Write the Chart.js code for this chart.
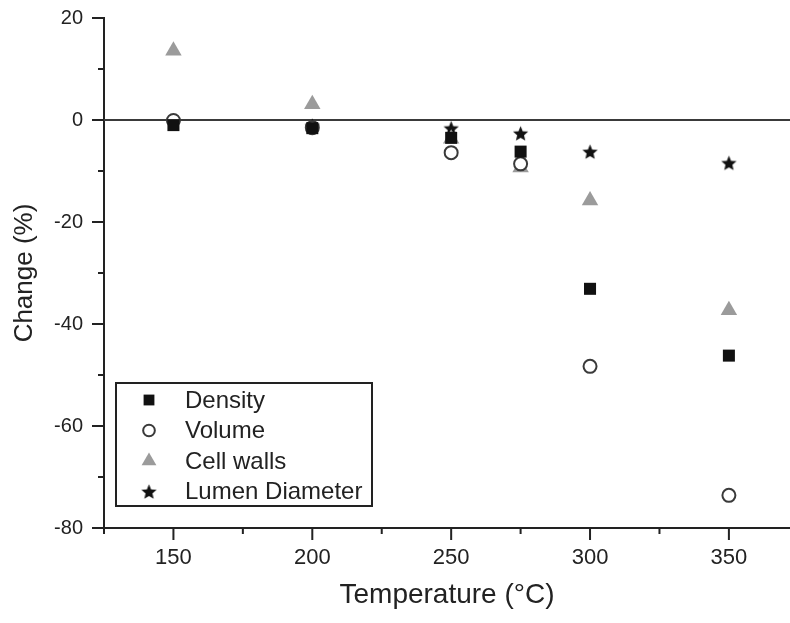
<!DOCTYPE html>
<html>
<head>
<meta charset="utf-8">
<script src="https://cdn.jsdelivr.net/npm/chart.js@4/dist/chart.umd.min.js"></script>
<style>
    html, body {
        margin: 0;
        padding: 0;
        background: #ffffff;
    }

    #wrap {
        width: 790px;
        height: 623px;
        position: relative;
    }
</style>
</head>
<body>
<div id="wrap">
    <canvas id="chart"></canvas>
</div>
<script>
// temperatures (°C) and % change
const temperatures = [150, 200, 250, 275, 300, 350];

const density = [-1.0, -1.6, -3.5, -6.2, -33.1, -46.2];
const volume = [-0.1, -1.5, -6.4, -8.6, -48.3, -73.6];
const cellWalls = [13.6, 3.1, -3.7, -9.3, -15.8, -37.3];
const lumenDiameter = [-0.4, -1.1, -1.6, -2.6, -6.2, -8.4];

const seriesNames = ["Density", "Volume", "Cell walls", "Lumen Diameter"];

const xMajorTicks = [150, 200, 250, 300, 350];
const xMinorTicks = [125, 175, 225, 275, 325];
const yMajorTicks = [20, 0, -20, -40, -60, -80];
const yMinorTicks = [10, -10, -30, -50, -70];

const FONT = "'Liberation Sans', Arial, sans-serif";
const INK = "#222222";

function toPoints(values) {
    return temperatures.map((t, i) => ({ x: t, y: values[i] }));
}

// filled five point star used as a marker
function makeStar(size, color) {
    const c = document.createElement("canvas");
    c.width = size;
    c.height = size;
    const g = c.getContext("2d");
    const cx = size / 2;
    const cy = size / 2 + 0.8;
    const outer = size / 2 - 0.5;
    const inner = outer * 0.45;
    g.beginPath();
    for (let i = 0; i < 10; i++) {
        const r = i % 2 === 0 ? outer : inner;
        const a = -Math.PI / 2 + i * Math.PI / 5;
        const px = cx + r * Math.cos(a);
        const py = cy + r * Math.sin(a);
        if (i === 0) g.moveTo(px, py); else g.lineTo(px, py);
    }
    g.closePath();
    g.fillStyle = color;
    g.fill();
    return c;
}

const starMarker = makeStar(17, "#111111");

const frame = {
    id: "frame",

    beforeDatasetsDraw(chart) {
        const { ctx, chartArea, scales } = chart;
        const y0 = scales.y.getPixelForValue(0);
        ctx.save();
        ctx.strokeStyle = "#3a3a3a";
        ctx.lineWidth = 2;
        ctx.beginPath();
        ctx.moveTo(chartArea.left, y0);
        ctx.lineTo(chartArea.right, y0);
        ctx.stroke();
        ctx.restore();
    },

    afterDraw(chart) {
        const { ctx, chartArea, scales } = chart;
        const left = chartArea.left;
        const bottom = chartArea.bottom;

        ctx.save();
        ctx.strokeStyle = INK;
        ctx.lineWidth = 2;
        ctx.beginPath();

        yMajorTicks.forEach(v => {
            const py = scales.y.getPixelForValue(v);
            ctx.moveTo(left - 12, py);
            ctx.lineTo(left, py);
        });
        yMinorTicks.forEach(v => {
            const py = scales.y.getPixelForValue(v);
            ctx.moveTo(left - 6, py);
            ctx.lineTo(left, py);
        });
        xMajorTicks.forEach(v => {
            const px = scales.x.getPixelForValue(v);
            ctx.moveTo(px, bottom);
            ctx.lineTo(px, bottom + 12);
        });
        xMinorTicks.forEach(v => {
            const px = scales.x.getPixelForValue(v);
            ctx.moveTo(px, bottom);
            ctx.lineTo(px, bottom + 6);
        });
        ctx.stroke();

        // legend box
        const bx = left + 12;
        const by = bottom - 145;
        const bw = 256;
        const bh = 123;
        ctx.lineWidth = 2;
        ctx.strokeStyle = INK;
        ctx.strokeRect(bx, by, bw, bh);

        ctx.font = "24px " + FONT;
        ctx.textBaseline = "middle";
        ctx.textAlign = "left";

        chart.data.datasets.forEach((ds, i) => {
            const ry = by + 17 + i * 30.5;
            ctx.save();
            ctx.fillStyle = ds.backgroundColor;
            ctx.strokeStyle = ds.borderColor;
            ctx.lineWidth = ds.borderWidth || 0;
            Chart.helpers.drawPoint(ctx, {
                pointStyle: ds.pointStyle,
                radius: ds.pointRadius * 0.9,
                rotation: 0,
                borderWidth: ds.borderWidth || 0
            }, bx + 33, ry);
            ctx.restore();
            ctx.fillStyle = INK;
            ctx.fillText(ds.label, bx + 69, ry + 1);
        });

        ctx.restore();
    }
};

new Chart(document.getElementById("chart"), {
    type: "scatter",

    data: {
        datasets: [
            {
                label: seriesNames[0],
                data: toPoints(density),
                pointStyle: "rect",
                pointRadius: 8.5,
                backgroundColor: "#111111",
                borderColor: "#111111",
                borderWidth: 0
            },
            {
                label: seriesNames[1],
                data: toPoints(volume),
                pointStyle: "circle",
                pointRadius: 6.5,
                backgroundColor: "#ffffff",
                borderColor: "#3a3a3a",
                borderWidth: 2
            },
            {
                label: seriesNames[2],
                data: toPoints(cellWalls),
                pointStyle: "triangle",
                pointRadius: 9.5,
                backgroundColor: "#9b9b9b",
                borderColor: "#9b9b9b",
                borderWidth: 0
            },
            {
                label: seriesNames[3],
                data: toPoints(lumenDiameter),
                pointStyle: starMarker,
                pointRadius: 9,
                backgroundColor: "#111111",
                borderColor: "#111111",
                borderWidth: 0
            }
        ]
    },

    options: {
        responsive: true,
        maintainAspectRatio: false,
        animation: false,

        layout: {
            autoPadding: false,
            padding: { top: 18, right: 0, bottom: 0, left: 0 }
        },

        plugins: {
            legend: { display: false },
            tooltip: { enabled: false }
        },

        elements: {
            point: { hoverRadius: 9 }
        },

        scales: {
            x: {
                type: "linear",
                min: 125,
                max: 372,
                afterBuildTicks(scale) {
                    scale.ticks = xMajorTicks.map(v => ({ value: v }));
                },
                afterFit(scale) {
                    scale.height = 95;
                },
                grid: {
                    display: true,
                    drawOnChartArea: false,
                    drawTicks: true,
                    tickLength: 17,
                    color: "rgba(0,0,0,0)"
                },
                border: {
                    display: true,
                    color: INK,
                    width: 2
                },
                ticks: {
                    padding: 0,
                    color: INK,
                    font: { family: FONT, size: 22 },
                    callback: v => String(v)
                },
                title: {
                    display: true,
                    text: "Temperature (°C)",
                    color: INK,
                    font: { family: FONT, size: 28 },
                    padding: { top: 0, bottom: 11 }
                }
            },

            y: {
                type: "linear",
                min: -80,
                max: 20,
                afterBuildTicks(scale) {
                    scale.ticks = yMajorTicks.map(v => ({ value: v }));
                },
                afterFit(scale) {
                    scale.width = 104;
                },
                grid: {
                    display: true,
                    drawOnChartArea: false,
                    drawTicks: true,
                    tickLength: 21,
                    color: "rgba(0,0,0,0)"
                },
                border: {
                    display: true,
                    color: INK,
                    width: 2
                },
                ticks: {
                    padding: 0,
                    color: INK,
                    font: { family: FONT, size: 20 },
                    callback: v => String(v)
                },
                title: {
                    display: true,
                    text: "Change (%)",
                    color: INK,
                    font: { family: FONT, size: 26 },
                    padding: { top: 9, bottom: 0 }
                }
            }
        }
    },

    plugins: [frame]
});
</script>
</body>
</html>
